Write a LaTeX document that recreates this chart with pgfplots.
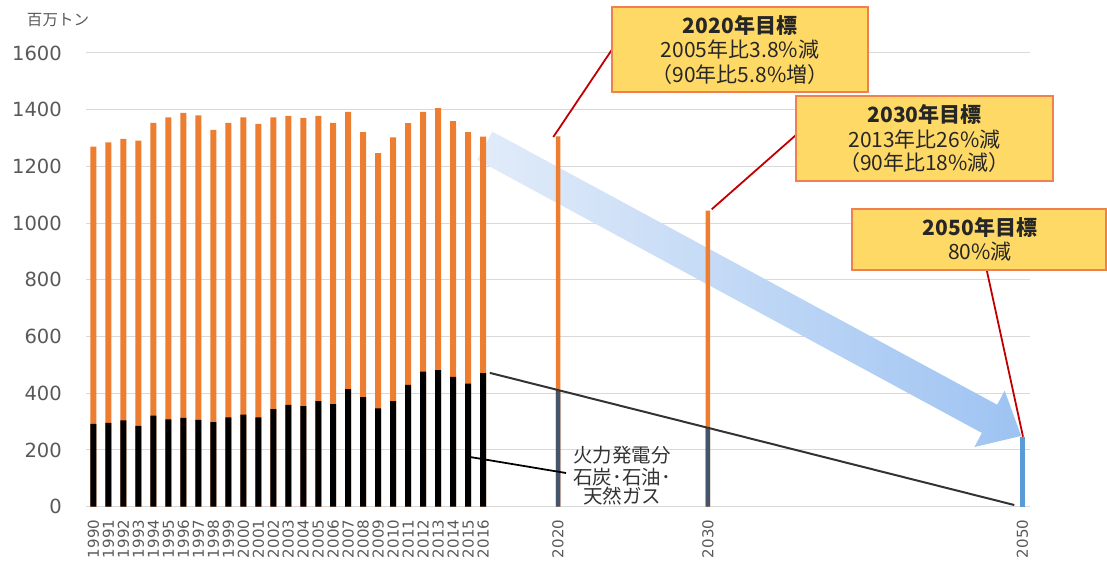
\documentclass[border=0pt]{standalone}
\usepackage{fontspec}
\setmainfont{DejaVu Sans}
\newfontfamily\cjk{Noto Sans CJK JP}
\usepackage{pgfplots}
\pgfplotsset{compat=1.18}
\definecolor{cOr}{HTML}{ED7D31}
\definecolor{cDk}{HTML}{44546A}
\definecolor{cBl}{HTML}{5B9BD5}
\definecolor{cGrid}{HTML}{D9D9D9}
\definecolor{cTick}{HTML}{595959}
\definecolor{cBox}{HTML}{FFD966}
\definecolor{cBoxE}{HTML}{F08050}
\definecolor{cRed}{HTML}{C00000}
\definecolor{arA}{HTML}{E2ECF9}
\definecolor{arB}{HTML}{9EC3F2}
\begin{document}
\begin{tikzpicture}[x=1pt,y=1pt]
\useasboundingbox (-86,-55.3) rectangle (1021,506.7);
\begin{axis}[
  at={(0,0)}, anchor=south west,
  scale only axis, width=944pt, height=453.7pt,
  xmin=-0.5, xmax=62.5, ymin=0, ymax=1600,
  axis line style={draw=none},
  major tick length=0pt,
  ytick={0,200,...,1600},
  ymajorgrids, grid style={color=cGrid, line width=1pt},
  xtick={0,1,2,3,4,5,6,7,8,9,10,11,12,13,14,15,16,17,18,19,20,21,22,23,24,25,26,31,41,62},
  xticklabels={1990,1991,1992,1993,1994,1995,1996,1997,1998,1999,2000,2001,2002,2003,2004,2005,2006,2007,2008,2009,2010,2011,2012,2013,2014,2015,2016,2020,2030,2050},
  xticklabel style={rotate=90, anchor=east, inner sep=0pt, font=\fontsize{15}{15}\selectfont, text=cTick},
  xticklabel shift=13pt,
  yticklabel style={anchor=east, inner sep=0pt, font=\fontsize{19.5}{20}\selectfont, text=cTick},
  yticklabel shift=24pt,
  /pgf/number format/assume math mode=true,
  /pgf/number format/1000 sep={},
  clip=false,
]
% broad reduction arrow (behind bars)
\shade[left color=arA, right color=arB]
  (axis cs:26.62,1322.8) -- (axis cs:60.31,359.6) -- (axis cs:60.81,409.4) --
  (axis cs:61.91,249.5) -- (axis cs:58.79,210.4) -- (axis cs:59.29,260.1) --
  (axis cs:25.61,1223.3) -- cycle;
% totals
\addplot[ybar, bar shift=0pt, bar width=6pt, fill=cOr, draw=none] coordinates {
(0,1270)(1,1285)(2,1297)(3,1291)(4,1354)(5,1373)(6,1389)(7,1380)(8,1329)(9,1354)
(10,1373)(11,1350)(12,1373)(13,1378)(14,1371)(15,1378)(16,1354)(17,1392)(18,1321)(19,1247)
(20,1302)(21,1353)(22,1392)(23,1406)(24,1360)(25,1321)(26,1305)};
% fossil-fuel power share
\addplot[ybar, bar shift=0pt, bar width=6pt, fill=black, draw=none] coordinates {
(0,292)(1,296)(2,304)(3,285)(4,321)(5,308)(6,313)(7,306)(8,298)(9,315)
(10,325)(11,315)(12,344)(13,359)(14,355)(15,372)(16,362)(17,415)(18,386)(19,347)
(20,372)(21,430)(22,476)(23,482)(24,458)(25,434)(26,471)};
% targets
\addplot[ybar, bar shift=0pt, bar width=4.5pt, fill=cOr, draw=none] coordinates {(31,1306)(41,1044)};
\addplot[ybar, bar shift=0pt, bar width=4.5pt, fill=cDk, draw=none] coordinates {(31,410)(41,277)};
\addplot[ybar, bar shift=0pt, bar width=5pt, fill=cBl, draw=none] coordinates {(62,247)};
% trend line of fossil power
\addplot[color=black!80, line width=2pt] coordinates {(26.45,472)(61.45,6)};
\end{axis}
% unit label
\node[font=\cjk\fontsize{15.5}{16}\selectfont, text=cTick] at (-28,486.7) {百万トン};
% label leader
\draw[black, line width=1.8pt] (384,49.7) -- (480,33.7);
\node[font=\cjk\fontsize{19.5}{20}\selectfont, text=black!80] at (536,51.7) {火力発電分};
\node[font=\cjk\fontsize{19.5}{20}\selectfont, text=black!80] at (536,29.7) {石炭･石油･};
\node[font=\cjk\fontsize{19.5}{20}\selectfont, text=black!80] at (536,10.7) {天然ガス};
% callout leaders
\draw[cRed, line width=1.8pt] (525.7,456.7) -- (467.3,369.7);
\draw[cRed, line width=1.8pt] (710,371.7) -- (625.7,297.4);
\draw[cRed, line width=1.8pt] (900.7,236.7) -- (937,70);
% callout boxes
\filldraw[fill=cBox, draw=cBoxE, line width=1.5pt] (526,414.7) rectangle (782,499.7);
\filldraw[fill=cBox, draw=cBoxE, line width=1.5pt] (710,325.7) rectangle (967,410.7);
\filldraw[fill=cBox, draw=cBoxE, line width=1.5pt] (766,236.7) rectangle (1020,297.7);
\begin{scope}[every node/.style={font=\cjk\fontsize{21}{21}\selectfont, text=black!85, inner sep=0pt}]
\node at (654,481.7) {\bfseries 2020年目標};
\node at (654,456.7) {2005年比3.8\%減};
\node at (654,431.7) {（90年比5.8\%増）};
\node at (838.5,392.7) {\bfseries 2030年目標};
\node at (838.5,366.7) {2013年比26\%減};
\node at (838.5,343.7) {（90年比18\%減）};
\node at (894,279.7) {\bfseries 2050年目標};
\node at (894,254.7) {80\%減};
\end{scope}
\end{tikzpicture}
\end{document}
